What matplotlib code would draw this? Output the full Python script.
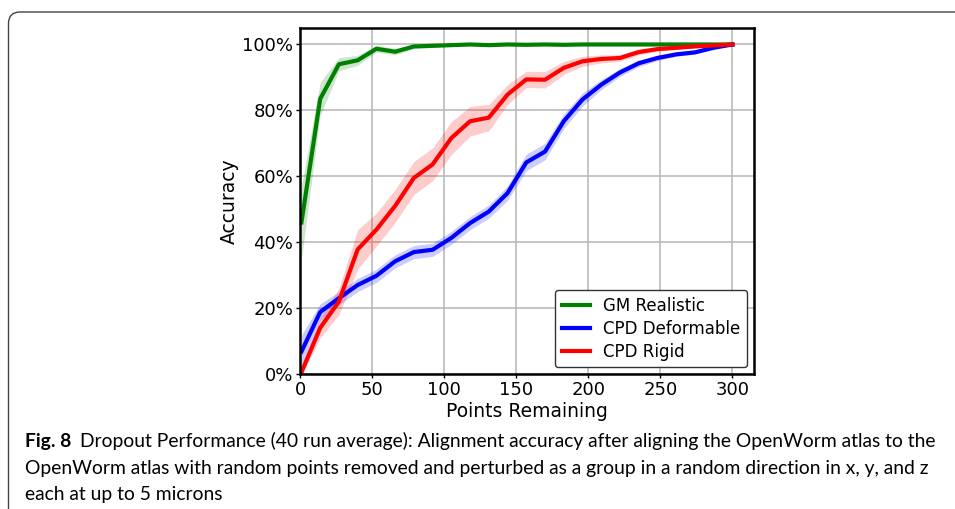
import numpy as np
import matplotlib
matplotlib.use("Agg")
import matplotlib.pyplot as plt
from matplotlib.patches import FancyBboxPatch
from matplotlib.ticker import PercentFormatter

# points remaining after dropout (24 steps of 13)
points = np.linspace(1, 300, 24)

gm_mean = [46, 83.5, 94, 95.2, 98.7, 97.8, 99.4, 99.6, 99.8, 100, 99.8, 100,
           99.9, 100, 99.9, 100, 100, 100, 100, 100, 100, 100, 100, 100]
gm_std = [11, 5, 2, 1.5, 1, 1, 0.6, 0.5, 0.4, 0.3, 0.3, 0.3,
          0.3, 0.2, 0.2, 0.2, 0.1, 0.1, 0.1, 0.1, 0.1, 0.1, 0.1, 0]

cpd_def_mean = [6.8, 18.8, 23, 27, 29.8, 34.2, 37, 37.7, 41.3, 45.8, 49.3, 54.9,
                64.2, 67.5, 76.7, 83.3, 87.8, 91.5, 94.3, 95.9, 97, 97.6, 99, 100]
cpd_def_std = [5, 2.5, 2, 2, 2, 2, 2, 2, 2, 2, 2, 2.2,
               2.5, 2.5, 2.2, 2, 1.5, 1.2, 1, 0.8, 0.6, 0.5, 0.3, 0]

cpd_rig_mean = [0.5, 14, 22, 37.8, 43.8, 51, 59.5, 63.6, 71.6, 76.7, 77.8, 84.8,
                89.4, 89.3, 92.9, 94.9, 95.6, 95.9, 97.7, 98.6, 99, 99.4, 99.7, 100]
cpd_rig_std = [1, 3, 4, 6, 5, 5, 5, 5, 5, 4.5, 4, 3,
               2.5, 2.5, 2, 1.5, 1.2, 1, 0.8, 0.6, 0.5, 0.3, 0.2, 0]

series = [
    ("GM Realistic", gm_mean, gm_std, "green"),
    ("CPD Deformable", cpd_def_mean, cpd_def_std, "blue"),
    ("CPD Rigid", cpd_rig_mean, cpd_rig_std, "red"),
]

caption_bold = "Fig. 8"
caption_lines = [
    "Dropout Performance (40 run average): Alignment accuracy after aligning the OpenWorm atlas to the",
    "OpenWorm atlas with random points removed and perturbed as a group in a random direction in x, y, and z",
    "each at up to 5 microns",
]

fig = plt.figure(figsize=(9.55, 5.09), dpi=100)
W, H = 955, 509

# rounded frame around figure + caption
frame = FancyBboxPatch((8.5 / W, -0.2), 1.2, 1.2 - 12 / H,
                       boxstyle="round,pad=0,rounding_size=0.012",
                       transform=fig.transFigure, fill=False,
                       edgecolor="#444444", linewidth=1.0, mutation_aspect=W / H)
fig.patches.append(frame)

ax = fig.add_axes([300 / W, 1 - 374 / H, 454 / W, 346 / H])

for name, m, s, c in series:
    m = np.array(m) / 100
    s = np.array(s) / 100
    ax.fill_between(points, m - s, np.minimum(m + s, 1.0), color=c, alpha=0.2, lw=0)
    ax.plot(points, m, color=c, lw=3, label=name)

ax.set_xlim(0, 315)
ax.set_ylim(0, 1.05)
ax.set_xticks([0, 50, 100, 150, 200, 250, 300])
ax.set_yticks([0, 0.2, 0.4, 0.6, 0.8, 1.0])
ax.yaxis.set_major_formatter(PercentFormatter(1.0, decimals=0))
ax.grid(color="#bbbbbb", lw=1.2)
ax.set_axisbelow(True)
for sp in ax.spines.values():
    sp.set_linewidth(1.8)
ax.tick_params(labelsize=13, length=3, width=1, pad=2)
ax.set_xlabel("Points Remaining", fontsize=13.5, labelpad=2)
ax.set_ylabel("Accuracy", fontsize=13.5, labelpad=2)

leg = ax.legend(loc="lower right", fontsize=12, fancybox=True, framealpha=1,
                edgecolor="#333333", borderaxespad=0.4, handlelength=1.7,
                labelspacing=0.3)
leg.get_frame().set_linewidth(1.0)

# caption, font size fitted so the first line spans the frame width
cap_font = ["Lato", "DejaVu Sans"]
t_bold = fig.text(25 / W, 1 - 447 / H, caption_bold, fontsize=12.5, fontweight="bold",
                  family=cap_font, va="baseline")
t1 = fig.text(86 / W, 1 - 447 / H, caption_lines[0], fontsize=12.5, family=cap_font, va="baseline")
t2 = fig.text(25 / W, 1 - 474 / H, caption_lines[1], fontsize=12.5, family=cap_font, va="baseline")
t3 = fig.text(25 / W, 1 - 500 / H, caption_lines[2], fontsize=12.5, family=cap_font, va="baseline")

renderer = fig.canvas.get_renderer()
w1 = t1.get_window_extent(renderer).width
size = 12.5 * (945 - 86) / w1
for t in (t_bold, t1, t2, t3):
    t.set_fontsize(size)

# start the first line just after the bold label
bw = t_bold.get_window_extent(renderer).width
t1.set_x((25 + bw + 9) / W)

fig.savefig("out.png", dpi=100)
